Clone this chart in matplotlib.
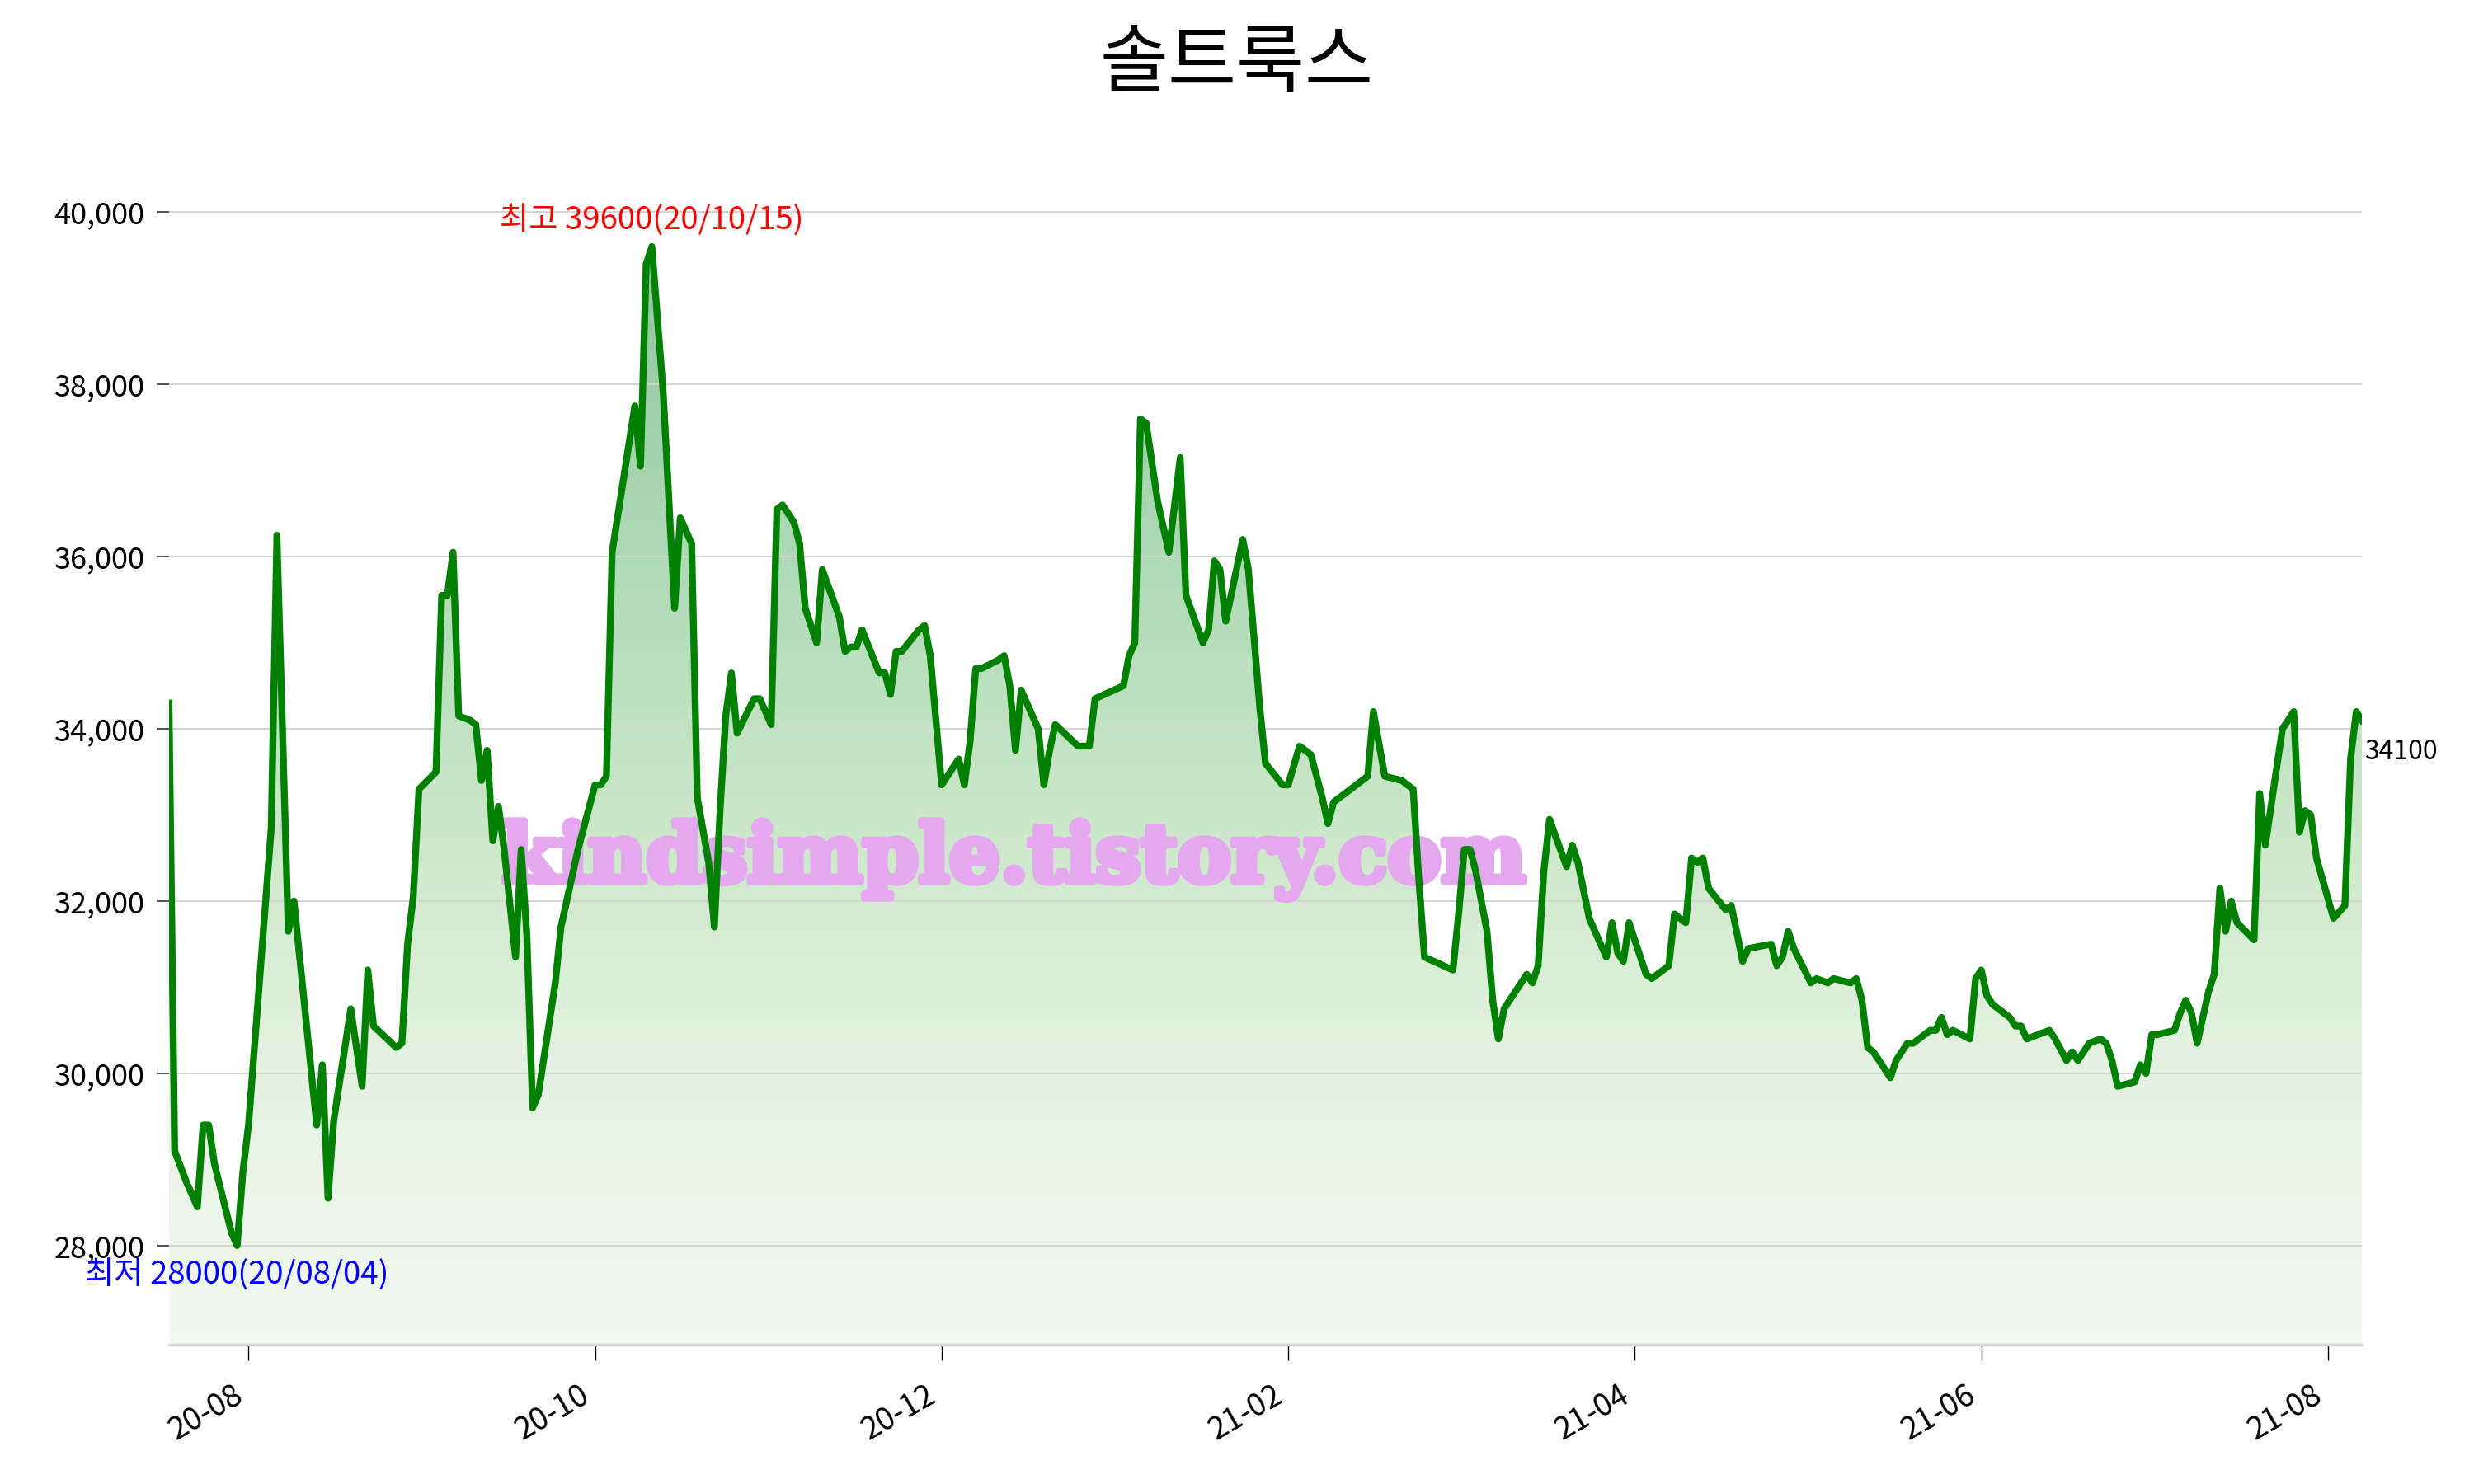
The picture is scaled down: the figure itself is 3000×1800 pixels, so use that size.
import numpy as np
import pandas as pd
import matplotlib
matplotlib.use('Agg')
import matplotlib.pyplot as plt
import matplotlib.dates as mdates
import matplotlib.patheffects as pe
from matplotlib.colors import LinearSegmentedColormap
from matplotlib.ticker import FuncFormatter

plt.rcParams['font.family'] = ['Noto Sans CJK KR', 'DejaVu Sans']

title = '솔트룩스'
watermark = 'kindsimple.tistory.com'
max_label = '최고 39600(20/10/15)'
min_label = '최저 28000(20/08/04)'

# 종가 (날짜는 2020-08-04 기준 경과일)
base_day = '2020-08-04'
days = [
    -12, -11, -9, -7, -6, -5, -4, -1, 0, 1,
    2, 6, 7, 9, 10, 14, 15, 16, 17, 20,
    22, 23, 24, 28, 29, 30, 31, 32, 35, 36,
    37, 38, 39, 41, 42, 43, 44, 45, 46, 47,
    49, 50, 51, 52, 53, 56, 57, 58, 60, 63,
    64, 65, 66, 70, 71, 72, 73, 75, 77, 78,
    80, 81, 83, 84, 85, 86, 87, 88, 91, 92,
    94, 95, 96, 98, 99, 100, 102, 103, 106, 107,
    108, 109, 110, 113, 114, 115, 116, 117, 120, 121,
    122, 124, 127, 128, 129, 130, 131, 134, 135, 136,
    137, 138, 141, 142, 143, 144, 148, 150, 151, 156,
    157, 158, 159, 160, 162, 164, 166, 167, 170, 171,
    172, 173, 174, 177, 178, 180, 181, 184, 185, 187,
    189, 191, 192, 193, 199, 200, 202, 205, 207, 208,
    209, 214, 215, 216, 217, 218, 220, 221, 222, 223,
    227, 228, 229, 230, 231, 234, 235, 236, 238, 241,
    242, 243, 244, 245, 248, 249, 252, 253, 255, 256,
    257, 258, 259, 262, 263, 265, 266, 270, 271, 272,
    273, 274, 277, 278, 280, 281, 284, 285, 286, 287,
    288, 291, 292, 294, 295, 298, 299, 300, 301, 302,
    305, 306, 307, 308, 309, 312, 313, 314, 315, 317,
    319, 320, 322, 323, 324, 326, 328, 329, 330, 331,
    334, 335, 336, 337, 338, 341, 342, 343, 344, 345,
    347, 348, 349, 350, 351, 352, 355, 356, 357, 360,
    362, 363, 364, 365, 366, 369, 371, 372, 373, 374,
]
prices = [
    34300, 29100, 28750, 28450, 29400, 29400, 28950, 28150, 28000, 28850,
    29400, 32850, 36250, 31650, 32000, 29400, 30100, 28550, 29450, 30750,
    29850, 31200, 30550, 30300, 30350, 31500, 32050, 33300, 33500, 35550,
    35550, 36050, 34150, 34100, 34050, 33400, 33750, 32700, 33100, 32600,
    31350, 32600, 31600, 29600, 29750, 31050, 31700, 32000, 32600, 33350,
    33350, 33450, 36050, 37750, 37050, 39400, 39600, 37900, 35400, 36450,
    36150, 33200, 32450, 31700, 33050, 34150, 34650, 33950, 34350, 34350,
    34050, 36550, 36600, 36400, 36150, 35400, 35000, 35850, 35300, 34900,
    34950, 34950, 35150, 34650, 34650, 34400, 34900, 34900, 35150, 35200,
    34850, 33350, 33650, 33350, 33850, 34700, 34700, 34800, 34850, 34500,
    33750, 34450, 34000, 33350, 33750, 34050, 33800, 33800, 34350, 34500,
    34850, 35000, 37600, 37550, 36650, 36050, 37150, 35550, 35000, 35150,
    35950, 35850, 35250, 36200, 35850, 34250, 33600, 33350, 33350, 33800,
    33700, 33200, 32900, 33150, 33450, 34200, 33450, 33400, 33300, 32250,
    31350, 31200, 31850, 32600, 32600, 32350, 31650, 30850, 30400, 30750,
    31150, 31050, 31250, 32350, 32950, 32400, 32650, 32450, 31800, 31350,
    31750, 31400, 31300, 31750, 31150, 31100, 31250, 31850, 31750, 32500,
    32450, 32500, 32150, 31900, 31950, 31300, 31450, 31500, 31250, 31350,
    31650, 31450, 31050, 31100, 31050, 31100, 31050, 31100, 30850, 30300,
    30250, 29950, 30150, 30350, 30350, 30500, 30500, 30650, 30450, 30500,
    30400, 31100, 31200, 30900, 30800, 30650, 30550, 30550, 30400, 30450,
    30500, 30400, 30150, 30250, 30150, 30350, 30400, 30350, 30150, 29850,
    29900, 30100, 30000, 30450, 30450, 30500, 30700, 30850, 30700, 30350,
    30950, 31150, 32150, 31650, 32000, 31750, 31550, 33250, 32650, 34000,
    34200, 32800, 33050, 33000, 32500, 31800, 31950, 33650, 34200, 34100,
]

tick_days = [2, 63, 124, 185, 246, 307, 368]
tick_labels = ['20-08', '20-10', '20-12', '21-02', '21-04', '21-06', '21-08']

dates = pd.Timestamp(base_day) + pd.to_timedelta(days, unit='D')
x = mdates.date2num(dates)
y = np.array(prices)
tick_x = mdates.date2num(pd.Timestamp(base_day) + pd.to_timedelta(tick_days, unit='D'))

ymin, ymax = 26850, 41200

fig = plt.figure(figsize=(15, 9), dpi=200)
ax = fig.add_axes([0.0683, 0.0939, 0.8864, 0.8328])

# 그라데이션 채우기
cmap = LinearSegmentedColormap.from_list(
    'fill', ['#f4f9f2', '#e4f2e1', '#c8e6c6', '#aad8b3', '#92c5a1'])
grad = np.linspace(0, 1, 256).reshape(-1, 1)
im = ax.imshow(grad, extent=[x[0], x[-1], ymin, y.max()], origin='lower',
               aspect='auto', cmap=cmap, zorder=1)
poly = ax.fill_between(x, y, ymin, facecolor='none', edgecolor='none')
im.set_clip_path(poly.get_paths()[0], transform=ax.transData)

ax.plot(x, y, color='green', lw=3.0, zorder=3)

ax.set_xlim(x[0], x[-1])
ax.set_ylim(ymin, ymax)

ax.grid(axis='y', color='#d3d3d3', lw=0.7)
for s in ['top', 'right', 'left']:
    ax.spines[s].set_visible(False)
ax.spines['bottom'].set_color('#d3d3d3')
ax.spines['bottom'].set_linewidth(1.2)

ax.set_yticks(range(28000, 40001, 2000))
ax.yaxis.set_major_formatter(FuncFormatter(lambda v, p: f'{v:,.0f}'))
ax.set_xticks(tick_x)
ax.set_xticklabels(tick_labels, rotation=30, ha='right')
ax.tick_params(axis='y', length=5.5, width=0.6, color='#333333', labelsize=13, pad=5)
ax.tick_params(axis='x', length=7, width=0.5, color='black', labelsize=13.5, pad=8)

imax = int(np.argmax(y))
imin = int(np.argmin(y))
ax.annotate(max_label, (x[imax], y[imax]), xytext=(0, 4), textcoords='offset points',
            ha='center', va='bottom', color='red', fontsize=13.8)
ax.annotate(min_label, (x[imin], y[imin]), xytext=(0, -6), textcoords='offset points',
            ha='center', va='top', color='blue', fontsize=13.8)
ax.annotate(f'{prices[-1]}', (x[-1], y[-1]), xytext=(1, -8), textcoords='offset points',
            ha='left', va='top', color='black', fontsize=11.5, annotation_clip=False)

wm_color = '#e3a8ee'
ax.text(0.3855, 0.392, watermark, transform=ax.transAxes, ha='center', va='center',
        fontsize=35, fontfamily='DejaVu Serif', fontweight='bold', color=wm_color, zorder=2,
        path_effects=[pe.withStroke(linewidth=3, foreground=wm_color)])

fig.suptitle(title, fontsize=32.5, y=0.982)

fig.savefig('out.png', dpi=200)
